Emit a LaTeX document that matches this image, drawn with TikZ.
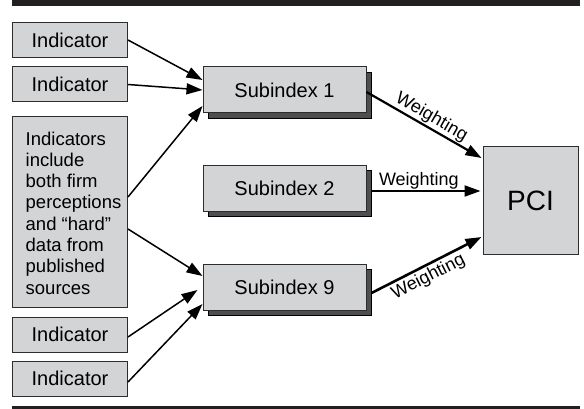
\documentclass[tikz,border=0pt]{standalone}
\usepackage{fontspec}
\setmainfont{Liberation Sans}
\usetikzlibrary{arrows.meta,shadows,calc}
\definecolor{boxgray}{RGB}{211,212,214}
\definecolor{shadegray}{RGB}{78,78,80}
\definecolor{edgegray}{RGB}{45,45,45}
\definecolor{barblack}{RGB}{35,31,32}
\begin{document}
\begin{tikzpicture}[x=1pt,y=-1pt,
  box/.style={draw=edgegray,line width=1pt,fill=boxgray,inner sep=0pt},
  indbox/.style={box,minimum width=115pt,minimum height=35pt,font=\fontsize{20}{24}\selectfont},
  subbox/.style={box,minimum width=163pt,minimum height=46pt,font=\fontsize{20}{24}\selectfont,
    general shadow={shadow xshift=5pt,shadow yshift=-5pt,fill=shadegray,draw=black,line width=0.6pt}},
  pcibox/.style={box,minimum width=95pt,minimum height=107pt,font=\fontsize{28}{32}\selectfont},
  bigtext/.style={align=left,inner sep=0pt,font=\fontsize{18.5}{21.3}\selectfont},
  feed/.style={line width=1.5pt,draw=black,-{Triangle[length=16pt,width=11pt]}},
  weigh/.style={line width=2.2pt,draw=black,-{Triangle[length=16pt,width=11pt]}},
  wlabel/.style={font=\fontsize{18}{20}\selectfont},
]
\useasboundingbox (0,0) rectangle (584,409);

% rules at top and bottom
\fill[barblack] (12,0) rectangle (580,6);
\fill[barblack] (12,406) rectangle (580,409);

% indicator column
\node[indbox] (ind1) at (70,40) {Indicator};
\node[indbox] (ind2) at (70,84.5) {Indicator};
\node[box,minimum width=115pt,minimum height=190pt] (big) at (70,212) {};
\node[bigtext] (bigtxt) at (73.5,213) {Indicators\\include\\both firm\\perceptions\\and “hard”\\data from\\published\\sources};
\node[indbox] (ind4) at (70,334.5) {Indicator};
\node[indbox] (ind5) at (70,378.5) {Indicator};

% subindices
\node[subbox] (sub1) at (284.5,90) {Subindex 1};
\node[subbox] (sub2) at (284.5,188.5) {Subindex 2};
\node[subbox] (sub9) at (284.5,287) {Subindex 9};

% composite index
\node[pcibox] (pci) at (530.5,200.5) {PCI};

% indicators feeding the subindices
\draw[feed] (ind1.east) -- ([yshift=10pt]sub1.west);
\draw[feed] (ind2.east) -- (sub1.west);
\draw[feed] ([yshift=15pt]big.east) -- ([yshift=-16pt]sub1.west);
\draw[feed] ([yshift=-17pt]big.east) -- ([yshift=11pt]sub9.west);
\draw[feed] ([yshift=-2.5pt]ind4.east) -- ([xshift=-5pt,yshift=-3pt]sub9.west);
\draw[feed] ([yshift=-3.5pt]ind5.east) -- ([yshift=-17pt]sub9.west);

% weighted subindices into the PCI
\draw[weigh] ([yshift=-2pt]sub1.east) -- ([xshift=-1pt,yshift=42.5pt]pci.west)
  node[wlabel,pos=0.52,sloped,above,inner sep=1pt] {Weighting};
\draw[weigh] ([xshift=4pt,yshift=-2.5pt]sub2.east) -- ([xshift=-2pt,yshift=9.5pt]pci.west)
  node[wlabel,pos=0.44,above,inner sep=0.5pt] {Weighting};
\draw[line width=2.6pt,draw=black,-{Triangle[length=16pt,width=11pt]}] ([xshift=5pt,yshift=-6pt]sub9.east) -- ([xshift=-1pt,yshift=-36.5pt]pci.west)
  node[wlabel,pos=0.47,sloped,below,inner sep=2pt] {Weighting};
\end{tikzpicture}
\end{document}
